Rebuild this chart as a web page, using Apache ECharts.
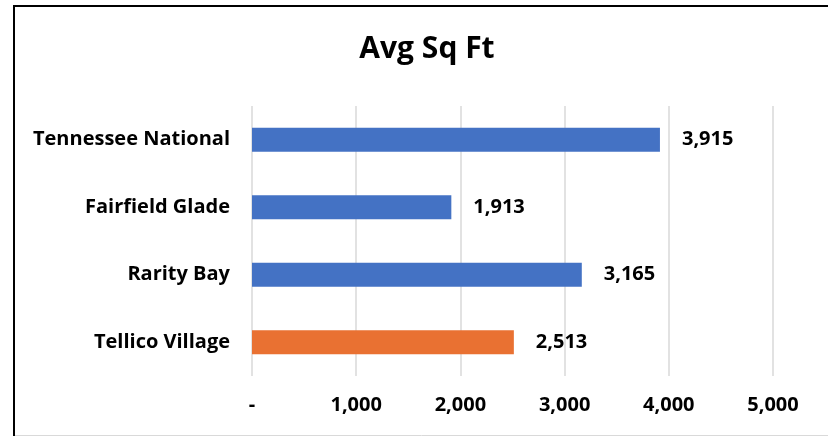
<!DOCTYPE html>
<html>
<head>
<meta charset="utf-8">
<script src="https://cdn.jsdelivr.net/npm/echarts@6/dist/echarts.min.js"></script>
<style>
html,body{margin:0;padding:0;background:#fff;}
#c{width:828px;height:436px;}
</style>
</head>
<body>
<div id="c"></div>
<script>
const categories = ['Tellico Village', 'Rarity Bay', 'Fairfield Glade', 'Tennessee National'];
const values = [2513, 3165, 1913, 3915];
const barColors = ['#E97132', '#4472C4', '#4472C4', '#4472C4'];
const xTicks = [0, 1000, 2000, 3000, 4000, 5000];

const FONT = '"Open Sans", "Liberation Sans", sans-serif';
function fmt(v) {
  if (v === 0) return '-';
  return v.toLocaleString('en-US');
}

const chart = echarts.init(document.getElementById('c'), null, {renderer: 'canvas'});
chart.setOption({
  animation: false,
  backgroundColor: '#fff',
  title: {
    text: 'Avg Sq Ft',
    left: 422, top: 29, textAlign: 'center',
    textStyle: {fontFamily: FONT, fontWeight: 'bold', fontSize: 30, color: '#000'}
  },
  grid: {left: 252, right: 55, top: 106, bottom: 60, containLabel: false},
  xAxis: {
    type: 'value', min: xTicks[0], max: xTicks[xTicks.length - 1], interval: 1000,
    axisLine: {show: false}, axisTick: {show: false},
    splitLine: {show: true, lineStyle: {color: '#d9d9d9', width: 1.5}},
    axisLabel: {
      margin: 19, fontFamily: FONT, fontWeight: 'bold', fontSize: 20, color: '#000',
      formatter: fmt
    }
  },
  yAxis: {
    type: 'category', data: categories,
    axisLine: {show: false}, axisTick: {show: false},
    axisLabel: {margin: 22, fontFamily: FONT, fontWeight: 'bold', fontSize: 20, color: '#000'}
  },
  series: [{
    type: 'bar',
    data: values.map((v, i) => ({value: v, itemStyle: {color: barColors[i]}})),
    barWidth: 24,
    label: {
      show: true, position: 'right', distance: 22,
      fontFamily: FONT, fontWeight: 'bold', fontSize: 20, color: '#000',
      formatter: p => fmt(p.value)
    }
  }],
  graphic: [
    {type: 'polyline', shape: {points: [[14, 436], [14, 6], [828, 6]]}, style: {stroke: '#000', lineWidth: 2, fill: null}},
    {type: 'line', shape: {x1: 15, y1: 435.5, x2: 828, y2: 435.5}, style: {stroke: '#d9d9d9', lineWidth: 1}}
  ]
});
</script>
</body>
</html>
